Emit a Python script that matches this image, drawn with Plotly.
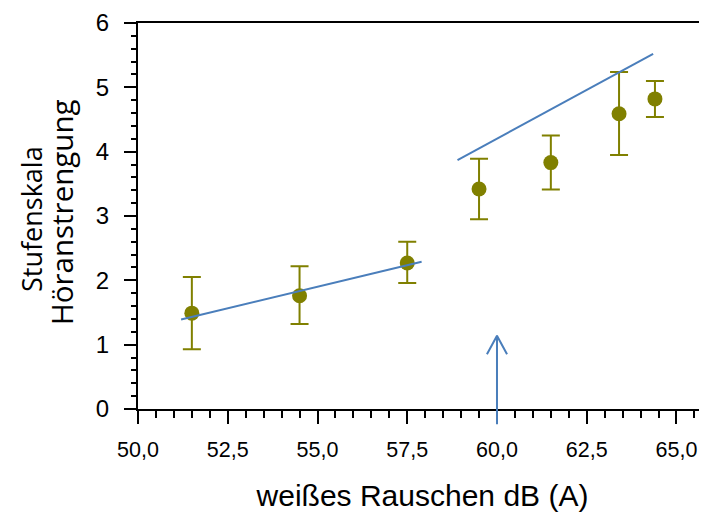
import plotly.graph_objects as go

# ---- data ----
noise_db = [51.5, 54.5, 57.5, 59.5, 61.5, 63.4, 64.4]
effort_mean = [1.49, 1.76, 2.27, 3.42, 3.83, 4.59, 4.82]
effort_upper = [2.05, 2.22, 2.60, 3.89, 4.25, 5.24, 5.10]
effort_lower = [0.93, 1.32, 1.96, 2.95, 3.41, 3.95, 4.54]

fit_low_x = [51.2, 57.9]
fit_low_y = [1.39, 2.29]
fit_high_x = [58.9, 64.35]
fit_high_y = [3.87, 5.52]

arrow_x = 60.0
arrow_tip_y = 1.14
arrow_tail_y = -0.26

x_tick_vals = [50.0, 52.5, 55.0, 57.5, 60.0, 62.5, 65.0]
y_tick_vals = [0, 1, 2, 3, 4, 5, 6]

x_title = "weißes Rauschen dB (A)"
y_title_lines = ["Stufenskala", "Höranstrengung"]

# ---- styling ----
OLIVE = "#808000"
BLUE = "#4A7EBB"
FONT = "Liberation Sans, Arial, sans-serif"
TITLE_FONT = "Open Sans, Liberation Sans, sans-serif"
head_dx = 0.28
head_dy = 0.29
# page body adds an 8px offset; compensate so the chart lands at the window origin
PAGE_OFFSET = 8

err_plus = [u - m for u, m in zip(effort_upper, effort_mean)]
err_minus = [m - l for m, l in zip(effort_mean, effort_lower)]

fig = go.Figure()

fig.add_trace(go.Scatter(
    x=noise_db, y=effort_mean, mode="markers",
    marker=dict(color=OLIVE, size=15, line=dict(width=0)),
    error_y=dict(type="data", symmetric=False, array=err_plus, arrayminus=err_minus,
                 color=OLIVE, thickness=2, width=9),
    showlegend=False, cliponaxis=False,
))

fig.add_trace(go.Scatter(x=fit_low_x, y=fit_low_y, mode="lines",
                         line=dict(color=BLUE, width=2), showlegend=False))
fig.add_trace(go.Scatter(x=fit_high_x, y=fit_high_y, mode="lines",
                         line=dict(color=BLUE, width=2), showlegend=False))

# chevron arrow head
fig.add_trace(go.Scatter(
    x=[arrow_x - head_dx, arrow_x, arrow_x + head_dx],
    y=[arrow_tip_y - head_dy, arrow_tip_y, arrow_tip_y - head_dy],
    mode="lines", line=dict(color=BLUE, width=2), showlegend=False,
))

fig.add_annotation(
    x=arrow_x, y=arrow_tip_y, ax=arrow_x, ay=arrow_tail_y,
    xref="x", yref="y", axref="x", ayref="y",
    text="", showarrow=True, arrowhead=0, arrowwidth=2, arrowcolor=BLUE,
    standoff=0, startstandoff=0,
)

# y-axis title as two rotated lines
for line_text, xshift, yshift, size in zip(y_title_lines, [-107, -77], [-3, 4], [27, 29.5]):
    fig.add_annotation(
        text=line_text, xref="paper", yref="paper", x=0, y=0.5,
        xanchor="center", yanchor="middle", xshift=xshift, yshift=yshift,
        textangle=-90, showarrow=False,
        font=dict(size=size, family=TITLE_FONT, color="black"),
    )

fig.update_layout(
    width=707 - PAGE_OFFSET, height=512 - PAGE_OFFSET,
    margin=dict(l=138 - PAGE_OFFSET, r=0, t=23 - PAGE_OFFSET, b=103),
    paper_bgcolor="white", plot_bgcolor="white",
    separators=", ",
    font=dict(family=FONT, color="black"),
)

fig.update_xaxes(
    range=[50, 65.85], automargin=False,
    tickvals=x_tick_vals, tickformat=".1f",
    ticks="outside", ticklen=13, tickwidth=1.5, tickcolor="black",
    minor=dict(dtick=0.5, ticks="outside", ticklen=7, tickwidth=1.5, tickcolor="black"),
    showline=True, linecolor="black", linewidth=2, mirror=True,
    showgrid=False, zeroline=False,
    tickfont=dict(size=21.5, family=FONT),
    ticklabelstandoff=7,
    title=dict(text=x_title, font=dict(size=30, family=FONT), standoff=24),
)

fig.update_yaxes(
    range=[0, 6], automargin=False,
    tickvals=y_tick_vals,
    ticks="outside", ticklen=12, tickwidth=1.5, tickcolor="black",
    minor=dict(dtick=0.2, ticks="outside", ticklen=5, tickwidth=1.5, tickcolor="black"),
    showline=True, linecolor="black", linewidth=2,
    showgrid=False, zeroline=False,
    tickfont=dict(size=24, family=FONT),
    ticklabelstandoff=10,
)

fig.write_html("out.html")
